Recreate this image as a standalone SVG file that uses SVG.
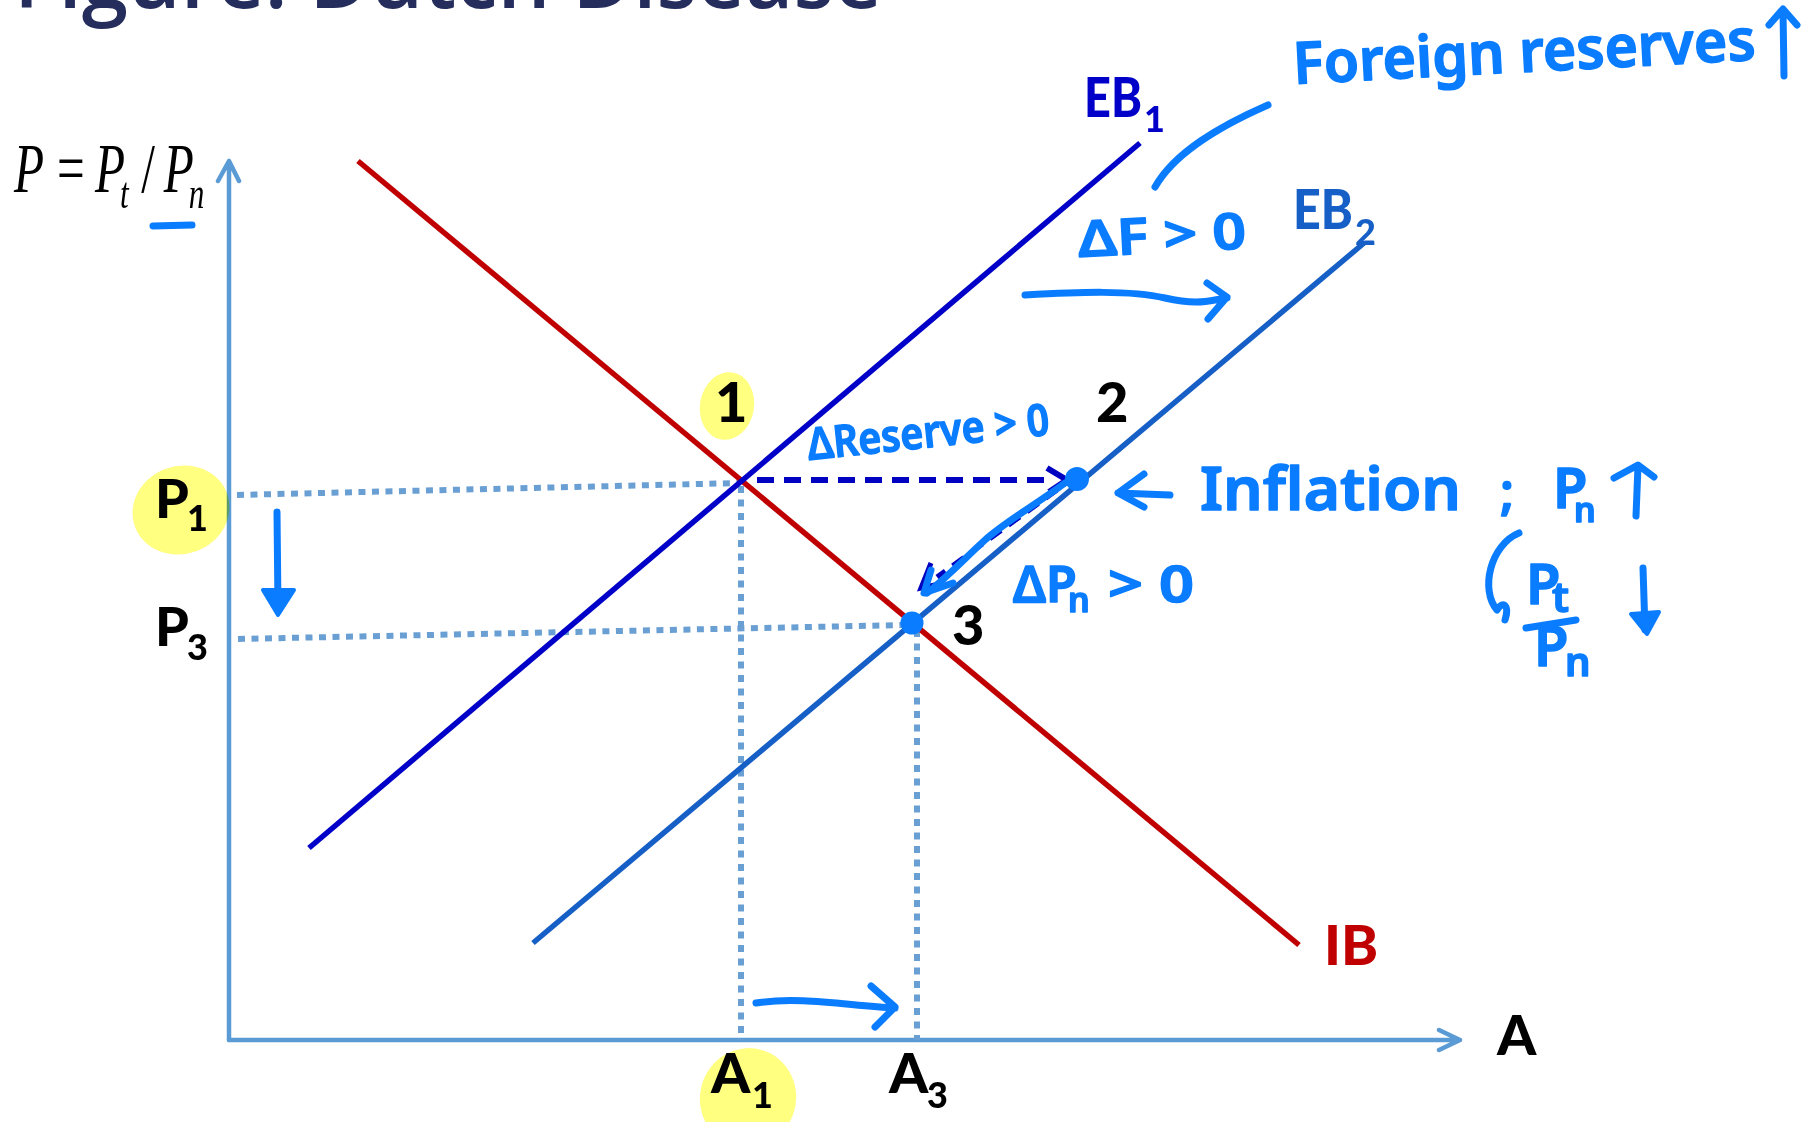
<svg xmlns="http://www.w3.org/2000/svg" width="1808" height="1122" viewBox="0 0 1808 1122">
<style>
.ax{stroke:#5B9BD5;stroke-width:4.5;fill:none;stroke-linecap:round;stroke-linejoin:round}
.dt{stroke:#6A9FD4;stroke-width:6;stroke-dasharray:7 6.5;fill:none}
.lbl{font-family:Lato,"Liberation Sans",sans-serif;font-weight:900}
.hw{fill:#0A7CFF;stroke:#0A7CFF;stroke-width:1.5;stroke-linejoin:round;font-family:"Noto Sans","DejaVu Sans",sans-serif;font-weight:600}
.hs{stroke:#0A7CFF;stroke-width:7;fill:none;stroke-linecap:round;stroke-linejoin:round}
.hl{fill:#FFFF80;mix-blend-mode:multiply}
.eq{font-family:"Liberation Serif","Times New Roman",serif;font-style:italic;fill:#000}
</style>
<rect width="1808" height="1122" fill="#fff"/>
<text x="14" y="8" font-family="'Open Sans',sans-serif" font-size="87" font-weight="600" fill="#242D5C" textLength="868" lengthAdjust="spacingAndGlyphs">Figure: Dutch Disease</text>

<g id="axes">
<path class="ax" d="M229,1040 V161 M218,181 L229,161 L239,181"/>
<path class="ax" d="M229,1040 H1460 M1439,1030 L1460,1040 L1439,1050"/>
<g class="eq" transform="translate(14,192) scale(0.78,1.12)" font-size="63">
<text x="0" y="0">P</text>
<text x="55" y="0" font-style="normal">=</text>
<text x="104" y="0">P</text>
<text x="136" y="14" font-size="40">t</text>
<text x="163" y="0" font-style="normal">/</text>
<text x="192" y="0">P</text>
<text x="224" y="14" font-size="40">n</text>
</g>
<text class="lbl" x="1497" y="1055" font-size="56">A</text>
</g>

<g id="guides">
<path class="dt" d="M237,495 L740,483"/>
<path class="dt" d="M238,639 L905,625"/>
<path class="dt" d="M741,486 V1040"/>
<path class="dt" d="M917,630 V1040"/>
</g>

<g id="IB">
<path d="M358,161 L1299,945" stroke="#C00000" stroke-width="5.5" fill="none"/>
<text class="lbl" x="1324" y="965" font-size="56" fill="#C00000">IB</text>
</g>
<g id="EB1">
<path d="M309,848 L1140,143" stroke="#0000C8" stroke-width="5.5" fill="none"/>
<text class="lbl" x="1084" y="117" font-size="56" fill="#0000C8" textLength="58" lengthAdjust="spacingAndGlyphs">EB</text>
<text class="lbl" x="1144" y="132" font-size="36" fill="#0000C8">1</text>
</g>
<g id="EB2">
<path d="M533,943 L1364,243" stroke="#155FC6" stroke-width="5.5" fill="none"/>
<text class="lbl" x="1293" y="229" font-size="56" fill="#155FC6" textLength="60" lengthAdjust="spacingAndGlyphs">EB</text>
<text class="lbl" x="1355" y="245" font-size="36" fill="#155FC6">2</text>
</g>

<g id="connectors">
<path d="M757,480 H1054" stroke="#0000C0" stroke-width="6" stroke-dasharray="17 10" fill="none"/>
<path d="M1047,468 L1067,480 L1049,492" stroke="#0000C0" stroke-width="6" fill="none" stroke-linejoin="round"/>
<path d="M1057,490 L937,577" stroke="#0000C0" stroke-width="5" stroke-dasharray="14 9" fill="none"/>
<path d="M931,563 L921,588 L944,583" stroke="#0000C0" stroke-width="5" fill="none"/>
<path class="hs" d="M1065,483 C1035,505 1005,522 985,540 S950,575 927,593" stroke-width="6"/>
<path class="hs" d="M931,570 L924,593 L953,583" stroke-width="6"/>
</g>

<g id="point1">
<ellipse class="hl" cx="727" cy="406" rx="27" ry="34" transform="rotate(10 727 406)"/>
<text class="lbl" x="715" y="422" font-size="56">1</text>
</g>
<g id="point2">
<circle cx="1077" cy="479" r="12" fill="#0A7CFF"/>
<text class="lbl" x="1096" y="422" font-size="56">2</text>
</g>
<g id="point3">
<circle cx="912" cy="623" r="11.5" fill="#0A7CFF"/>
<text class="lbl" x="952" y="645" font-size="56">3</text>
</g>

<g id="P1">
<ellipse class="hl" cx="181" cy="510" rx="49" ry="44" transform="rotate(-20 181 510)"/>
<text class="lbl" x="155" y="518" font-size="54">P</text>
<text class="lbl" x="187" y="531" font-size="36">1</text>
</g>
<g id="P3">
<text class="lbl" x="155" y="646" font-size="54">P</text>
<text class="lbl" x="187" y="660" font-size="36">3</text>
</g>
<g id="A1">
<ellipse class="hl" cx="748" cy="1098" rx="48" ry="50" transform="rotate(15 748 1098)"/>
<text class="lbl" x="711" y="1093" font-size="56">A</text>
<text class="lbl" x="752" y="1108" font-size="36">1</text>
</g>
<g id="A3">
<text class="lbl" x="889" y="1093" font-size="56">A</text>
<text class="lbl" x="927" y="1108" font-size="36">3</text>
</g>

<g id="annotations">
<path class="hs" d="M153,226 L192,225" stroke-width="6"/>
<path class="hs" d="M277,512 L278,608"/>
<path d="M263,590 L294,590 L278,615 Z" fill="#0A7CFF" stroke="#0A7CFF" stroke-width="4" stroke-linejoin="round"/>
<path class="hs" d="M756,1003 C800,996 850,1006 895,1008 M871,986 L895,1007 L875,1027"/>
<text class="hw" x="1294" y="84" font-size="58" textLength="463" lengthAdjust="spacingAndGlyphs" transform="rotate(-3 1294 84)">Foreign reserves</text>
<path class="hs" d="M1783,10 L1784,76 M1769,25 L1783,9 L1797,25"/>
<path class="hs" d="M1155,187 C1175,152 1220,126 1268,105" stroke-width="6"/>
<text class="hw" x="1079" y="257" font-size="50" textLength="168" lengthAdjust="spacingAndGlyphs" transform="rotate(-3 1079 257)">ΔF &gt; 0</text>
<path class="hs" d="M1025,295 C1080,292 1130,290 1165,298 S1210,300 1227,298 M1207,283 L1227,297 L1208,319"/>
<text class="hw" x="809" y="460" font-size="44" textLength="243" lengthAdjust="spacingAndGlyphs" transform="rotate(-6 809 460)">ΔReserve &gt; 0</text>
<path class="hs" d="M1170,495 L1118,493 M1144,474 L1118,493 L1144,507"/>
<text class="hw" x="1200" y="510" font-size="60" textLength="261" lengthAdjust="spacingAndGlyphs">Inflation</text>
<text class="hw" x="1500" y="510" font-size="50">;</text>
<text class="hw" x="1553" y="508" font-size="56">P</text>
<text class="hw" x="1574" y="522" font-size="34">n</text>
<path class="hs" d="M1636,516 L1638,466 M1614,478 L1638,465 L1654,477"/>
<path class="hs" d="M1519,533 C1490,545 1480,590 1497,610 M1497,610 C1503,600 1510,605 1505,620"/>
<text class="hw" x="1526" y="604" font-size="56">P</text>
<text class="hw" x="1552" y="612" font-size="42">t</text>
<path class="hs" d="M1526,628 L1576,620"/>
<text class="hw" x="1534" y="666" font-size="56">P</text>
<text class="hw" x="1565" y="676" font-size="40">n</text>
<path class="hs" d="M1643,568 L1645,630"/>
<path d="M1631,614 L1659,612 L1647,634 Z" fill="#0A7CFF" stroke="#0A7CFF" stroke-width="4" stroke-linejoin="round"/>
<text class="hw" x="1013" y="602" font-size="50">ΔP</text>
<text class="hw" x="1068" y="612" font-size="34">n</text>
<text class="hw" x="1108" y="602" font-size="50" textLength="86" lengthAdjust="spacingAndGlyphs">&gt; 0</text>
</g>
</svg>
